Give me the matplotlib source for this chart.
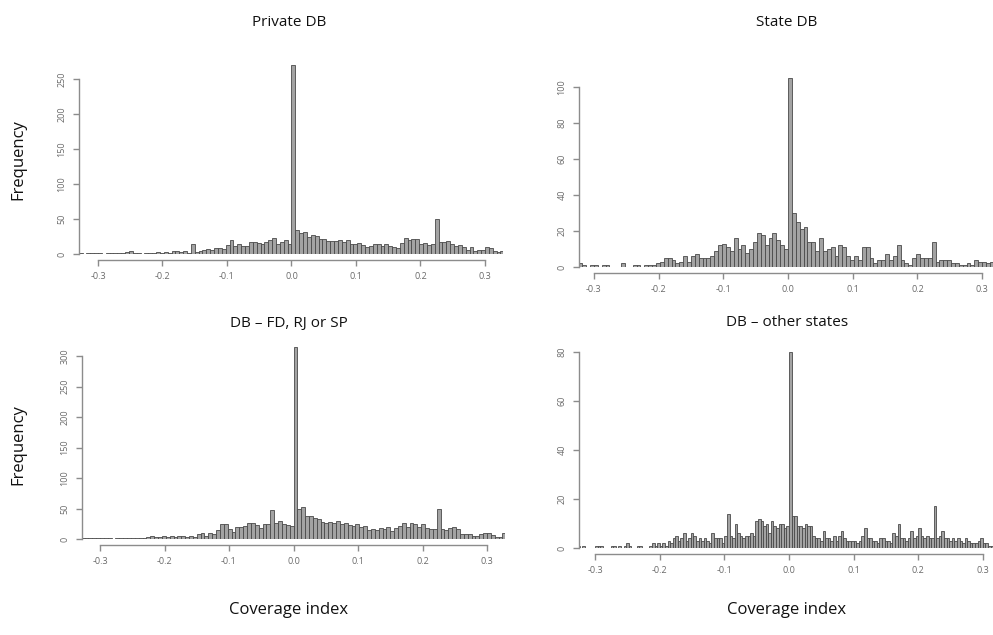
import numpy as np
import matplotlib
matplotlib.use('Agg')
import matplotlib.pyplot as plt

plt.rcParams['font.family'] = ['Open Sans', 'DejaVu Sans']

# Histogram counts (bin width 0.006 from -0.33, last panel 0.004 from -0.332)
private_db = [1, 0, 1, 1, 2, 1, 0, 1, 1, 2, 1, 1, 3, 4, 2, 1, 0, 1, 2, 2, 3, 2,
              3, 2, 4, 5, 3, 4, 2, 14, 3, 5, 6, 7, 6, 8, 9, 7,
              13, 20, 12, 15, 12, 11, 17, 17, 16, 15, 17, 20, 23, 15, 17, 20, 14, 270,
              35, 30, 32, 24, 27, 26, 22, 21, 18, 18, 18, 20, 17, 20, 14, 15, 16, 13, 10, 12,
              15, 14, 11, 14, 12, 10, 9, 16, 23, 20, 21, 22, 14, 16, 13, 15, 50, 17, 17, 18,
              15, 12, 13, 10, 6, 10, 5, 6, 6, 10, 8, 4, 3, 5]

state_db = [1, 2, 1, 0, 1, 1, 0, 1, 1, 0,
            0, 0, 2, 0, 0, 1, 1, 0, 1, 1,
            1, 2, 3, 5, 5, 4, 2, 3, 6, 3,
            6, 7, 5, 5, 5, 6, 9, 12, 13, 11,
            9, 16, 10, 12, 8, 10, 14, 19, 18, 12,
            16, 19, 15, 12, 10, 105, 30, 25, 21, 22,
            14, 14, 9, 16, 9, 10, 11, 6, 12, 11,
            6, 4, 6, 4, 11, 11, 5, 2, 4, 4,
            7, 4, 6, 12, 4, 2, 1, 5, 7, 5,
            5, 5, 14, 3, 4, 4, 4, 2, 2, 1,
            1, 2, 1, 4, 3, 3, 2, 3, 2, 1]

db_fd_rj_sp = [2, 1, 1, 2, 1, 1, 2, 1, 0, 1, 1, 2, 1, 1, 2, 1, 2, 3,
               5, 3, 4, 5, 4, 5, 4, 5, 5, 4, 5, 4, 8, 10, 5, 10, 9, 14,
               25, 25, 16, 11, 20, 20, 22, 27, 26, 23, 18, 25, 25, 48, 27, 30, 25, 23, 21,
               315,
               50, 53, 37, 37, 35, 33, 28, 27, 28, 27, 30, 25, 27, 23, 22, 24, 20, 21, 15, 17,
               14, 18, 16, 20, 13, 18, 22, 27, 20, 26, 25, 20, 25, 18, 17, 17, 50,
               17, 15, 18, 20, 17, 8, 8, 8, 5, 5, 8, 10, 10, 7, 4, 4, 10]

db_other = [0, 1, 0, 1, 0, 0, 0, 0, 1, 1, 1, 0, 0, 0, 1, 1, 0, 1, 0, 1,
            2, 1, 0, 0, 1, 1, 0, 0, 0, 1, 2, 1, 2, 1, 2, 1, 3, 2, 4, 5,
            3, 4, 6, 3, 4, 6, 5, 3, 4, 3, 4, 3, 2, 6, 4, 4, 4, 2, 5, 14,
            5, 4, 10, 6, 5, 4, 5, 5, 6, 5, 11, 12, 11, 9, 10, 6, 11, 9, 8, 10,
            10, 8, 9, 80,
            13, 13, 9, 9, 8, 10, 9, 9, 5, 4, 4, 3, 7, 4, 4, 3, 5, 3, 5, 7,
            4, 3, 3, 3, 3, 2, 3, 5, 8, 4, 4, 3, 3, 2, 4, 4, 3, 3, 2, 6,
            5, 10, 4, 4, 3, 4, 7, 4, 5, 8, 5, 4, 5, 4, 4, 17, 4, 5, 7, 4,
            4, 3, 4, 3, 4, 3, 2, 4, 3, 2, 2, 2, 3, 4, 2, 2, 1, 1, 1, 1, 1, 1]

titles = ['Private DB', 'State DB', 'DB \u2013 FD, RJ or SP', 'DB \u2013 other states']
x_ticks = [-0.3, -0.2, -0.1, 0.0, 0.1, 0.2, 0.3]
y_ticks = [[0, 50, 100, 150, 200, 250], [0, 20, 40, 60, 80, 100],
           [0, 50, 100, 150, 200, 250, 300], [0, 20, 40, 60, 80]]

W, H = 993, 635
fig = plt.figure(figsize=(W / 100, H / 100), dpi=100)

# (left px, right px, px of x=0, px per x unit, px of y=0, px per y unit, ymax, bin start, bin width, data)
panels = [
    (79, 503, 291.5, 645, 254, 0.70, 275, -0.33, 0.006, private_db),
    (579, 993, 788, 647, 267, 1.80, 110, -0.33, 0.006, state_db),
    (82, 505, 293.5, 645, 539, 0.61, 320, -0.33, 0.006, db_fd_rj_sp),
    (579, 993, 789, 646, 548, 2.45, 82, -0.332, 0.004, db_other),
]

for k, (l, r, x0, xs, y0, ys, ymax, start, bw, counts) in enumerate(panels):
    top = y0 - ymax * ys
    ax = fig.add_axes([l / W, 1 - y0 / H, (r - l) / W, (y0 - top) / H])
    edges = start + bw * np.arange(len(counts))
    ax.bar(edges, counts, width=bw, align='edge', color='#a3a3a3',
           edgecolor='#4a4a4a', linewidth=0.6)
    ax.set_xlim((l - x0) / xs, (r - x0) / xs)
    ax.set_ylim(0, ymax)
    for s in ['top', 'right']:
        ax.spines[s].set_visible(False)
    ax.spines['left'].set_bounds(0, y_ticks[k][-1])
    ax.spines['bottom'].set_bounds(-0.3, 0.3)
    ax.spines['bottom'].set_position(('outward', 4))
    for s in ['left', 'bottom']:
        ax.spines[s].set_color('#8c8c8c')
        ax.spines[s].set_linewidth(1.0)
    ax.set_xticks(x_ticks)
    ax.set_xticklabels(['%.1f' % t for t in x_ticks])
    ax.set_yticks(y_ticks[k])
    ax.tick_params(axis='both', colors='#8c8c8c', labelcolor='#6a6a6a',
                   labelsize=6.5, length=4, width=1.0, pad=5)
    for lab in ax.get_yticklabels():
        lab.set_rotation(90)
        lab.set_va('center')

# titles placed by pixel position
title_pos = [(289, 22), (787, 22), (289, 323), (787, 323)]
for t, (tx, ty) in zip(titles, title_pos):
    fig.text(tx / W, 1 - ty / H, t, ha='center', va='center', fontsize=11, color='#111111')

for fy in [160, 445]:
    fig.text(18 / W, 1 - fy / H, 'Frequency', rotation=90, ha='center', va='center',
             fontsize=12, color='#111111')
for fx in [289, 787]:
    fig.text(fx / W, 1 - 610 / H, 'Coverage index', ha='center', va='center',
             fontsize=12, color='#111111')

fig.savefig('out.png', dpi=100)
